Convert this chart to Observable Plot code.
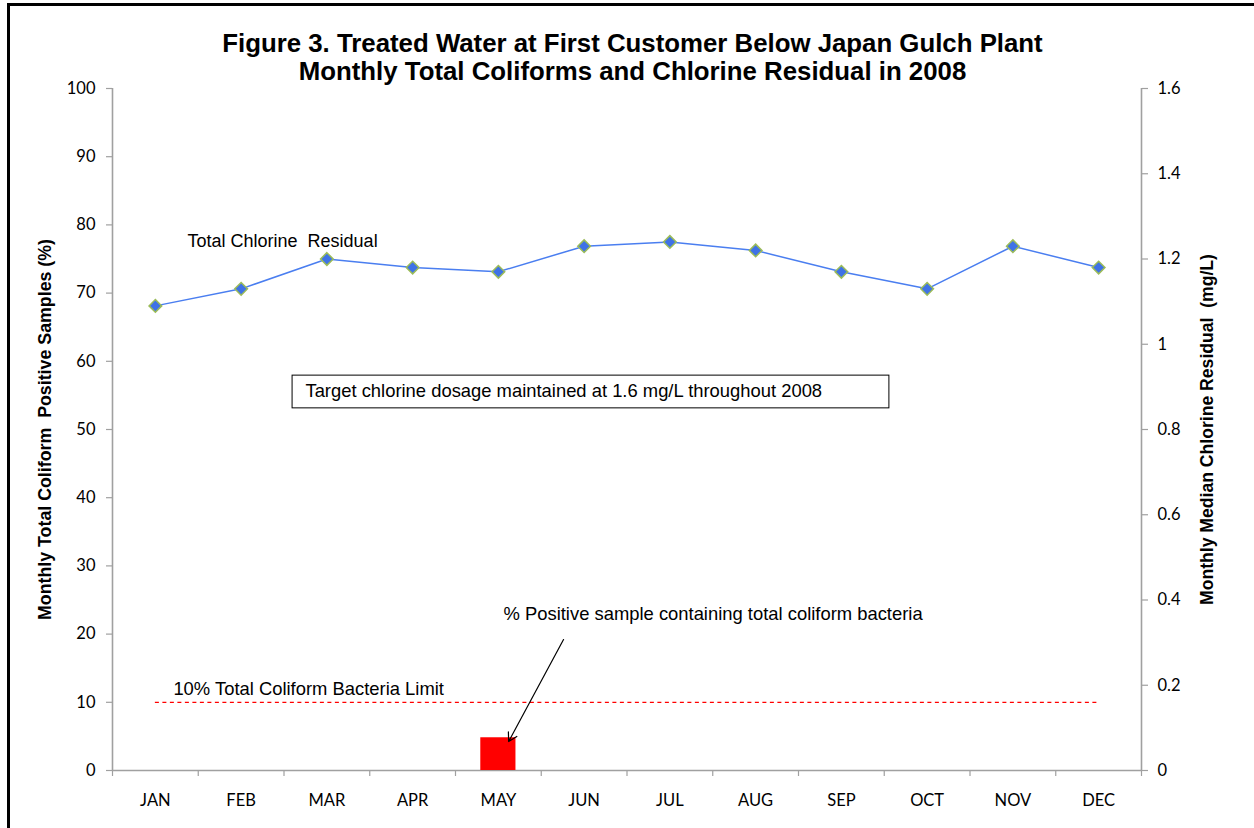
<!DOCTYPE html>
<html>
<head>
<meta charset="utf-8">
<script src="https://cdn.jsdelivr.net/npm/d3@7"></script>
<script src="https://cdn.jsdelivr.net/npm/@observablehq/plot@0.6"></script>
<style>
  html, body { margin: 0; padding: 0; background: #fff; overflow: hidden; }
  #wrap { position: relative; width: 1254px; height: 828px; }
  #border { position: absolute; left: 7px; top: 3px; width: 1400px; height: 1000px;
            border-left: 3.5px solid #000; border-top: 3.5px solid #000; pointer-events: none; }
  #chart { position: absolute; left: 0; top: 0; }
</style>
</head>
<body>
<div id="wrap"><div id="chart"></div><div id="border"></div></div>
<script>
// ---- data ----
const months = ["JAN","FEB","MAR","APR","MAY","JUN","JUL","AUG","SEP","OCT","NOV","DEC"];
const coliformPct = [0, 0, 0, 0, 4.8, 0, 0, 0, 0, 0, 0, 0];          // % positive samples
const chlorine = [1.09, 1.13, 1.20, 1.18, 1.17, 1.23, 1.24, 1.22, 1.17, 1.13, 1.23, 1.18]; // mg/L
const coliformLimit = 10;
const leftTicks = [0, 10, 20, 30, 40, 50, 60, 70, 80, 90, 100];
const rightTicks = [0, 0.2, 0.4, 0.6, 0.8, 1.0, 1.2, 1.4, 1.6];
const rightMax = 1.6;
const titleLines = ["Figure 3. Treated Water at First Customer Below Japan Gulch Plant",
                    "Monthly Total Coliforms and Chlorine Residual in 2008"];

// ---- derived table ----
const rows = months.map((m, i) => ({m, i, pct: coliformPct[i], cl: chlorine[i]}));
const toLeft = v => v / rightMax * 100;   // map mg/L onto the left (percent) scale
const barHalf = 0.205;

const gray = "#a0a0a0";
const tickFont = "Lato, 'Open Sans', sans-serif";
const tickSize = 16.5;
const arial = "'Liberation Sans', Arial, sans-serif";
const annSize = 18.4;

const plot = Plot.plot({
  width: 1254,
  height: 828,
  marginLeft: 112,
  marginRight: 113,
  marginTop: 88,
  marginBottom: 58,
  x: {domain: [0, months.length], axis: null},
  y: {domain: [0, 100], axis: null},
  style: {background: "transparent"},
  marks: [
    // axis lines
    Plot.ruleY([0], {stroke: gray, strokeWidth: 1.6}),
    Plot.ruleX([0, months.length], {y1: 0, y2: 100, stroke: gray, strokeWidth: 1.6}),
    // left axis
    Plot.axisY({anchor: "left", ticks: leftTicks, tickSize: 6, tickPadding: 11,
      stroke: gray, strokeWidth: 1.2, fill: "#000", fontSize: tickSize, fontFamily: tickFont, label: null}),
    // right axis (chlorine)
    Plot.axisY({anchor: "right", ticks: rightTicks.map(toLeft), tickSize: 6, tickPadding: 10,
      tickFormat: d => String(+(d / 100 * rightMax).toFixed(1)),
      stroke: gray, strokeWidth: 1.2, fill: "#000", fontSize: tickSize, fontFamily: tickFont, label: null}),
    // x boundary ticks
    Plot.axisX({anchor: "bottom", ticks: d3.range(0, months.length + 1), tickSize: 6,
      tickFormat: () => "", stroke: gray, strokeWidth: 1.2, label: null}),
    // month labels
    Plot.text(rows, {x: d => d.i + 0.5, y: 0, text: "m", dy: 30, fontSize: tickSize,
      fontFamily: tickFont, fill: "#000"}),
    // coliform bars
    Plot.rectY(rows, {x1: d => d.i + 0.5 - barHalf, x2: d => d.i + 0.5 + barHalf, y: "pct", fill: "#ff0000"}),
    // 10% limit
    Plot.ruleY([coliformLimit], {x1: 0.5, x2: months.length - 0.5, stroke: "#ff0000",
      strokeWidth: 1.3, strokeDasharray: "4,3.5"}),
    Plot.text(["10% Total Coliform Bacteria Limit"], {x: 0.71, y: 11.9, textAnchor: "start",
      fontSize: annSize, fontFamily: arial, fill: "#000"}),
    // chlorine line + markers
    Plot.line(rows, {x: d => d.i + 0.5, y: d => toLeft(d.cl), stroke: "#4a7ef0", strokeWidth: 1.5}),
    Plot.dot(rows, {x: d => d.i + 0.5, y: d => toLeft(d.cl), symbol: "diamond2", r: 5.7,
      fill: "#3f72e6", stroke: "#9bbb59", strokeWidth: 1.5}),
    Plot.text(["Total Chlorine  Residual"], {x: 0.875, y: 77.6, textAnchor: "start",
      fontSize: 18, fontFamily: arial, fill: "#000"}),
    // target box
    Plot.rect([0], {x1: 2.1, x2: 9.06, y1: 53.1, y2: 57.9, fill: "#fff", stroke: "#000", strokeWidth: 1}),
    Plot.text(["Target chlorine dosage maintained at 1.6 mg/L throughout 2008"], {x: 2.25, y: 55.6,
      textAnchor: "start", fontSize: annSize, fontFamily: arial, fill: "#000"}),
    // arrow annotation
    Plot.arrow([0], {x1: 5.26, y1: 19.2, x2: 4.62, y2: 4.25, stroke: "#000", strokeWidth: 1.2,
      headLength: 12}),
    Plot.text(["% Positive sample containing total coliform bacteria"], {x: 4.56, y: 23.0,
      textAnchor: "start", fontSize: annSize, fontFamily: arial, fill: "#000"}),
    // titles
    Plot.text([titleLines[0]], {frameAnchor: "top", dx: 5.5, dy: -55, fontSize: 25.8, fontWeight: "bold",
      fontFamily: arial, fill: "#000"}),
    Plot.text([titleLines[1]], {frameAnchor: "top", dx: 5.5, dy: -27, fontSize: 25.8, fontWeight: "bold",
      fontFamily: arial, fill: "#000"}),
    // axis titles
    Plot.text(["Monthly Total Coliform  Positive Samples (%)"], {x: -0.78, y: 50,
      rotate: -90, fontSize: 17.8, fontWeight: "bold", fontFamily: arial, fill: "#000"}),
    Plot.text(["Monthly Median Chlorine Residual  (mg/L)"], {x: 12.77, y: 50,
      rotate: -90, fontSize: 17.6, fontWeight: "bold", fontFamily: arial, fill: "#000"})
  ]
});
document.getElementById("chart").appendChild(plot);
</script>
</body>
</html>
